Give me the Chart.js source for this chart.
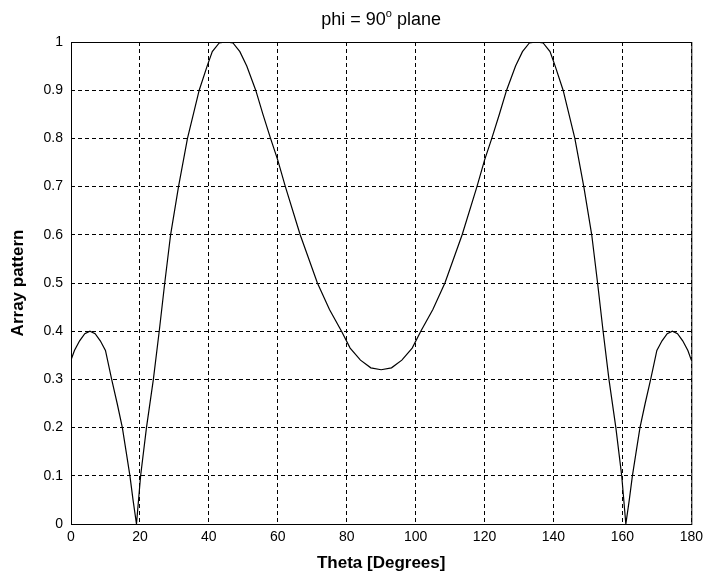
<!DOCTYPE html>
<html>
<head>
<meta charset="utf-8">
<script src="https://cdn.jsdelivr.net/npm/chart.js@4.4.1/dist/chart.umd.min.js"></script>
<style>
  html, body { margin: 0; padding: 0; background: #fff; }
  #wrap { width: 708px; height: 580px; position: relative; }
</style>
</head>
<body>
<div id="wrap"><canvas id="patternChart"></canvas></div>
<script>
// theta in degrees
const thetaDeg = [
  0, 1, 2.5, 4, 5.5, 7, 8.5, 10, 11.8, 13.4, 14.9, 16, 17.1, 18, 19,
  20.2, 21.9, 23.9, 25.6, 27.2, 28.9, 31.2, 33.8, 37.2, 39.5, 41, 43, 45,
  47, 49, 51, 53.6, 55.7, 57.9, 60, 62.2, 66.5, 71.5, 75, 78.5, 81, 84, 87, 90,
  93, 96, 99, 101.5, 105, 108.5, 113.5, 117.8, 120, 122.1, 124.3, 126.4, 129, 131, 133, 135,
  137, 139, 140.5, 142.8, 146.2, 148.8, 151.1, 152.8, 154.4, 156.1, 158.1, 159.8,
  161, 162, 162.9, 164, 165.1, 166.6, 168.2, 170, 171.5, 173, 174.5, 176, 177.5, 179, 180
];
// array pattern (normalised)
const pattern = [
  0.34, 0.36, 0.38, 0.395, 0.40, 0.395, 0.38, 0.36, 0.30, 0.25, 0.20, 0.15, 0.10, 0.05, 0.0,
  0.10, 0.20, 0.30, 0.40, 0.50, 0.60, 0.70, 0.80, 0.90, 0.95, 0.98, 0.998, 1.0,
  0.998, 0.98, 0.95, 0.90, 0.85, 0.80, 0.755, 0.70, 0.60, 0.50, 0.445, 0.40, 0.365, 0.34, 0.324, 0.32,
  0.324, 0.34, 0.365, 0.40, 0.445, 0.50, 0.60, 0.70, 0.755, 0.80, 0.85, 0.90, 0.95, 0.98, 0.998, 1.0,
  0.998, 0.98, 0.95, 0.90, 0.80, 0.70, 0.60, 0.50, 0.40, 0.30, 0.20, 0.10,
  0.0, 0.05, 0.10, 0.15, 0.20, 0.25, 0.30, 0.36, 0.38, 0.395, 0.40, 0.395, 0.38, 0.36, 0.34
];
const xTicks = [0, 20, 40, 60, 80, 100, 120, 140, 160, 180];
const yTicks = [0, 0.1, 0.2, 0.3, 0.4, 0.5, 0.6, 0.7, 0.8, 0.9, 1];

const FONT = '"Liberation Sans", Arial, Helvetica, sans-serif';

// MATLAB style box + title with superscript degree
const boxAndTitle = {
  id: 'boxAndTitle',
  afterDraw(chart) {
    const { ctx, chartArea: a } = chart;
    ctx.save();
    ctx.strokeStyle = '#000';
    ctx.lineWidth = 1;
    ctx.setLineDash([]);
    ctx.strokeRect(a.left + 0.5, a.top + 0.5, a.right - a.left, a.bottom - a.top);

    const main = 'phi = 90', sup = 'o', rest = ' plane';
    ctx.fillStyle = '#000';
    ctx.textBaseline = 'alphabetic';
    ctx.font = '18px ' + FONT;
    const w1 = ctx.measureText(main).width;
    const w3 = ctx.measureText(rest).width;
    ctx.font = '11px ' + FONT;
    const w2 = ctx.measureText(sup).width;
    let x = (a.left + a.right) / 2 - (w1 + w2 + w3) / 2;
    const y = 25;
    ctx.textAlign = 'left';
    ctx.font = '18px ' + FONT;
    ctx.fillText(main, x, y);
    x += w1;
    ctx.font = '11px ' + FONT;
    ctx.fillText(sup, x, y - 8);
    x += w2;
    ctx.font = '18px ' + FONT;
    ctx.fillText(rest, x, y);
    ctx.restore();
  }
};

new Chart(document.getElementById('patternChart'), {
  type: 'line',
  data: {
    datasets: [{
      data: thetaDeg.map((t, i) => ({ x: t, y: pattern[i] })),
      borderColor: '#000',
      borderWidth: 1.2,
      pointRadius: 0,
      tension: 0,
      fill: false
    }]
  },
  options: {
    responsive: true,
    maintainAspectRatio: false,
    animation: false,
    layout: { padding: { left: 0, right: 16, top: 42, bottom: 0 } },
    plugins: {
      legend: { display: false },
      tooltip: { enabled: false }
    },
    scales: {
      x: {
        type: 'linear',
        min: 0,
        max: 180,
        afterBuildTicks: s => { s.ticks = xTicks.map(v => ({ value: v })); },
        afterFit: s => { s.height = 56; },
        ticks: { color: '#000', font: { family: FONT, size: 14 }, padding: 5, maxRotation: 0 },
        grid: { color: '#000', lineWidth: 1, drawTicks: false },
        border: { display: false, dash: [4, 3] },
        title: {
          display: true,
          text: 'Theta [Degrees]',
          color: '#000',
          font: { family: FONT, size: 17, weight: 'bold' },
          padding: { top: 2, bottom: 6 }
        }
      },
      y: {
        min: 0,
        max: 1,
        afterBuildTicks: s => { s.ticks = yTicks.map(v => ({ value: v })); },
        afterFit: s => { s.width = 71; },
        ticks: {
          color: '#000',
          font: { family: FONT, size: 14 },
          padding: 8,
          callback: v => String(Number(v.toFixed(1)))
        },
        grid: { color: '#000', lineWidth: 1, drawTicks: false },
        border: { display: false, dash: [4, 3] },
        title: {
          display: true,
          text: 'Array pattern',
          color: '#000',
          font: { family: FONT, size: 17, weight: 'bold' },
          padding: { top: 8, bottom: 0 }
        }
      }
    }
  },
  plugins: [boxAndTitle]
});
</script>
</body>
</html>
